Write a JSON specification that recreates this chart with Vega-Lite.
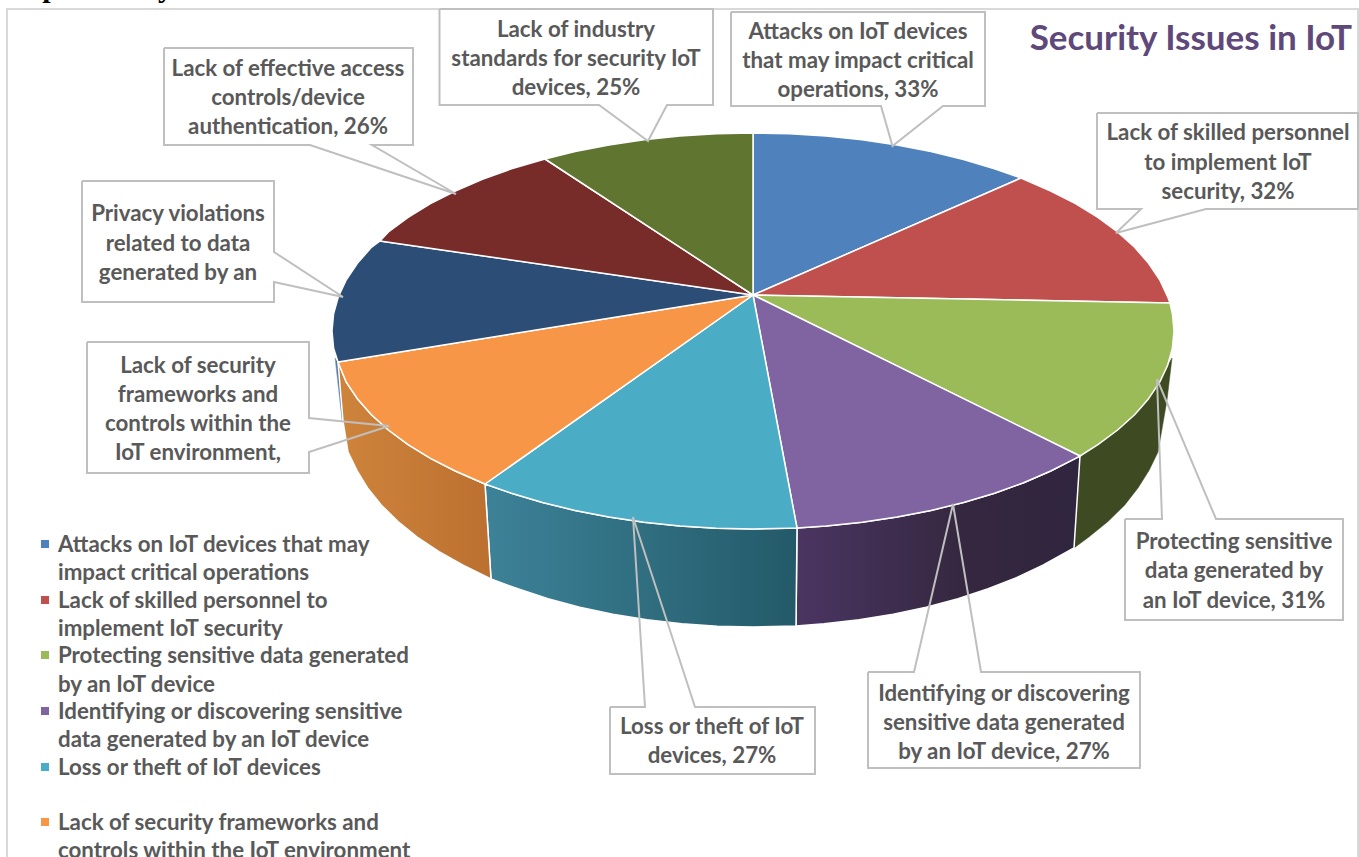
{"$schema":"https://vega.github.io/schema/vega-lite/v6.json","width":1359,"height":857,"padding":0,"autosize":"none","background":"white","config":{"view":{"stroke":null}},
"datasets":{
"slices":[
{"slice":"Attacks","x":0,"y":0},{"slice":"Attacks","x":0,"y":162},{"slice":"Attacks","x":36.7,"y":161.2},{"slice":"Attacks","x":73.1,"y":159},{"slice":"Attacks","x":109,"y":155.3},{"slice":"Attacks","x":144,"y":150.1},{"slice":"Attacks","x":177.9,"y":143.4},{"slice":"Attacks","x":210.5,"y":135.5},{"slice":"Attacks","x":241.5,"y":126.2},{"slice":"Attacks","x":268,"y":117},{"slice":"Attacks","x":0,"y":0},
{"slice":"Skilled","x":0,"y":0},{"slice":"Skilled","x":268,"y":117},{"slice":"Skilled","x":297.7,"y":104},{"slice":"Skilled","x":322.5,"y":91.3},{"slice":"Skilled","x":344.9,"y":77.6},{"slice":"Skilled","x":364.6,"y":63},{"slice":"Skilled","x":381.6,"y":47.7},{"slice":"Skilled","x":395.6,"y":31.7},{"slice":"Skilled","x":406.7,"y":15.2},{"slice":"Skilled","x":414.6,"y":-1.6},{"slice":"Skilled","x":417,"y":-8},{"slice":"Skilled","x":0,"y":0},
{"slice":"Protecting","x":0,"y":0},{"slice":"Protecting","x":417,"y":-8},{"slice":"Protecting","x":419.4,"y":-18.7},{"slice":"Protecting","x":421,"y":-36},{"slice":"Protecting","x":419.4,"y":-53.3},{"slice":"Protecting","x":414.6,"y":-70.4},{"slice":"Protecting","x":406.7,"y":-87.2},{"slice":"Protecting","x":395.6,"y":-103.7},{"slice":"Protecting","x":381.6,"y":-119.7},{"slice":"Protecting","x":364.6,"y":-135},{"slice":"Protecting","x":344.9,"y":-149.6},{"slice":"Protecting","x":327,"y":-161},{"slice":"Protecting","x":0,"y":0},
{"slice":"Identifying","x":0,"y":0},{"slice":"Identifying","x":327,"y":-161},{"slice":"Identifying","x":322.5,"y":-163.3},{"slice":"Identifying","x":297.7,"y":-176},{"slice":"Identifying","x":270.6,"y":-187.7},{"slice":"Identifying","x":241.5,"y":-198.2},{"slice":"Identifying","x":210.5,"y":-207.5},{"slice":"Identifying","x":177.9,"y":-215.4},{"slice":"Identifying","x":144,"y":-222.1},{"slice":"Identifying","x":109,"y":-227.3},{"slice":"Identifying","x":73.1,"y":-231},{"slice":"Identifying","x":44,"y":-233},{"slice":"Identifying","x":0,"y":0},
{"slice":"Loss","x":0,"y":0},{"slice":"Loss","x":44,"y":-233},{"slice":"Loss","x":36.7,"y":-233.2},{"slice":"Loss","x":0,"y":-234},{"slice":"Loss","x":-36.7,"y":-233.2},{"slice":"Loss","x":-73.1,"y":-231},{"slice":"Loss","x":-109,"y":-227.3},{"slice":"Loss","x":-144,"y":-222.1},{"slice":"Loss","x":-177.9,"y":-215.4},{"slice":"Loss","x":-210.5,"y":-207.5},{"slice":"Loss","x":-241.5,"y":-198.2},{"slice":"Loss","x":-268,"y":-189},{"slice":"Loss","x":0,"y":0},
{"slice":"Frameworks","x":0,"y":0},{"slice":"Frameworks","x":-268,"y":-189},{"slice":"Frameworks","x":-297.7,"y":-176},{"slice":"Frameworks","x":-322.5,"y":-163.3},{"slice":"Frameworks","x":-344.9,"y":-149.6},{"slice":"Frameworks","x":-364.6,"y":-135},{"slice":"Frameworks","x":-381.6,"y":-119.7},{"slice":"Frameworks","x":-395.6,"y":-103.7},{"slice":"Frameworks","x":-406.7,"y":-87.2},{"slice":"Frameworks","x":-415,"y":-67},{"slice":"Frameworks","x":0,"y":0},
{"slice":"Privacy","x":0,"y":0},{"slice":"Privacy","x":-415,"y":-67},{"slice":"Privacy","x":-419.4,"y":-53.3},{"slice":"Privacy","x":-421,"y":-36},{"slice":"Privacy","x":-419.4,"y":-18.7},{"slice":"Privacy","x":-414.6,"y":-1.6},{"slice":"Privacy","x":-406.7,"y":15.2},{"slice":"Privacy","x":-395.6,"y":31.7},{"slice":"Privacy","x":-381.6,"y":47.7},{"slice":"Privacy","x":-373,"y":54},{"slice":"Privacy","x":0,"y":0},
{"slice":"Access","x":0,"y":0},{"slice":"Access","x":-373,"y":54},{"slice":"Access","x":-364.6,"y":63},{"slice":"Access","x":-344.9,"y":77.6},{"slice":"Access","x":-322.5,"y":91.3},{"slice":"Access","x":-297.7,"y":104},{"slice":"Access","x":-270.6,"y":115.7},{"slice":"Access","x":-241.5,"y":126.2},{"slice":"Access","x":-208,"y":136},{"slice":"Access","x":0,"y":0},
{"slice":"Standards","x":0,"y":0},{"slice":"Standards","x":-208,"y":136},{"slice":"Standards","x":-177.9,"y":143.4},{"slice":"Standards","x":-144,"y":150.1},{"slice":"Standards","x":-109,"y":155.3},{"slice":"Standards","x":-73.1,"y":159},{"slice":"Standards","x":-36.7,"y":161.2},{"slice":"Standards","x":0,"y":162},{"slice":"Standards","x":0,"y":0}
],
"walls":[
{"wall":"Protecting","x":419,"y":-63},{"wall":"Protecting","x":414,"y":-105},{"wall":"Protecting","x":405,"y":-157},{"wall":"Protecting","x":396,"y":-175.6},{"wall":"Protecting","x":385,"y":-193},{"wall":"Protecting","x":371.6,"y":-210.2},{"wall":"Protecting","x":355,"y":-226.5},{"wall":"Protecting","x":335.9,"y":-242},{"wall":"Protecting","x":321,"y":-253},{"wall":"Protecting","x":327,"y":-161},{"wall":"Protecting","x":344.9,"y":-149.6},{"wall":"Protecting","x":364.6,"y":-135},{"wall":"Protecting","x":381.6,"y":-119.7},{"wall":"Protecting","x":395.6,"y":-103.7},{"wall":"Protecting","x":406.7,"y":-87.2},{"wall":"Protecting","x":414.6,"y":-70.4},{"wall":"Protecting","x":419,"y":-63},
{"wall":"Identifying","x":327,"y":-161},{"wall":"Identifying","x":297.7,"y":-176},{"wall":"Identifying","x":270.6,"y":-187.7},{"wall":"Identifying","x":241.5,"y":-198.2},{"wall":"Identifying","x":210.5,"y":-207.5},{"wall":"Identifying","x":177.9,"y":-215.4},{"wall":"Identifying","x":144,"y":-222.1},{"wall":"Identifying","x":109,"y":-227.3},{"wall":"Identifying","x":73.1,"y":-231},{"wall":"Identifying","x":44,"y":-233},{"wall":"Identifying","x":43,"y":-331},{"wall":"Identifying","x":71.2,"y":-328.8},{"wall":"Identifying","x":106.1,"y":-324.8},{"wall":"Identifying","x":140.2,"y":-319.3},{"wall":"Identifying","x":173.3,"y":-312.2},{"wall":"Identifying","x":205,"y":-303.7},{"wall":"Identifying","x":235.2,"y":-293.8},{"wall":"Identifying","x":263.5,"y":-282.6},{"wall":"Identifying","x":289.9,"y":-270.2},{"wall":"Identifying","x":321,"y":-253},{"wall":"Identifying","x":327,"y":-161},
{"wall":"Loss","x":44,"y":-233},{"wall":"Loss","x":0,"y":-234},{"wall":"Loss","x":-36.7,"y":-233.2},{"wall":"Loss","x":-73.1,"y":-231},{"wall":"Loss","x":-109,"y":-227.3},{"wall":"Loss","x":-144,"y":-222.1},{"wall":"Loss","x":-177.9,"y":-215.4},{"wall":"Loss","x":-210.5,"y":-207.5},{"wall":"Loss","x":-241.5,"y":-198.2},{"wall":"Loss","x":-268,"y":-189},{"wall":"Loss","x":-262,"y":-284},{"wall":"Loss","x":-235.2,"y":-293.8},{"wall":"Loss","x":-205,"y":-303.7},{"wall":"Loss","x":-173.3,"y":-312.2},{"wall":"Loss","x":-140.2,"y":-319.3},{"wall":"Loss","x":-106.1,"y":-324.8},{"wall":"Loss","x":-71.2,"y":-328.8},{"wall":"Loss","x":-35.7,"y":-331.2},{"wall":"Loss","x":0,"y":-332},{"wall":"Loss","x":43,"y":-331},{"wall":"Loss","x":44,"y":-233},
{"wall":"Frameworks","x":-268,"y":-189},{"wall":"Frameworks","x":-297.7,"y":-176},{"wall":"Frameworks","x":-322.5,"y":-163.3},{"wall":"Frameworks","x":-344.9,"y":-149.6},{"wall":"Frameworks","x":-364.6,"y":-135},{"wall":"Frameworks","x":-381.6,"y":-119.7},{"wall":"Frameworks","x":-395.6,"y":-103.7},{"wall":"Frameworks","x":-406.7,"y":-87.2},{"wall":"Frameworks","x":-415,"y":-67},{"wall":"Frameworks","x":-410,"y":-126},{"wall":"Frameworks","x":-405,"y":-157},{"wall":"Frameworks","x":-396,"y":-175.6},{"wall":"Frameworks","x":-385.3,"y":-193.2},{"wall":"Frameworks","x":-371.6,"y":-210.2},{"wall":"Frameworks","x":-355,"y":-226.5},{"wall":"Frameworks","x":-335.9,"y":-242},{"wall":"Frameworks","x":-314,"y":-256.6},{"wall":"Frameworks","x":-289.9,"y":-270.2},{"wall":"Frameworks","x":-262,"y":-284},{"wall":"Frameworks","x":-268,"y":-189},
{"wall":"Privacy","x":-418,"y":-63},{"wall":"Privacy","x":-415,"y":-67},{"wall":"Privacy","x":-410,"y":-127},{"wall":"Privacy","x":-411,"y":-125},{"wall":"Privacy","x":-418,"y":-63}
],
"boxes":[
{"box":"Attacks","x":-22,"x2":232,"y":283,"y2":189},{"box":"Standards","x":-313.5,"x2":-40,"y":286,"y2":190},{"box":"Access","x":-589,"x2":-340,"y":247,"y2":150},{"box":"Privacy","x":-671,"x2":-479,"y":114,"y2":-7},{"box":"Frameworks","x":-666,"x2":-444,"y":-47,"y2":-178},{"box":"Skilled","x":344,"x2":605,"y":182,"y2":86},{"box":"Protecting","x":372,"x2":590,"y":-224,"y2":-325},{"box":"Identifying","x":115,"x2":387,"y":-377,"y2":-473},{"box":"Loss","x":-143,"x2":62,"y":-412,"y2":-479}
],
"callouts":[
{"box":"Attacks","x":-22,"y":283},{"box":"Attacks","x":232,"y":283},{"box":"Attacks","x":232,"y":189},{"box":"Attacks","x":190,"y":189},{"box":"Attacks","x":139.5,"y":149},{"box":"Attacks","x":128,"y":189},{"box":"Attacks","x":-22,"y":189},{"box":"Attacks","x":-22,"y":283},
{"box":"Standards","x":-313.5,"y":286},{"box":"Standards","x":-40,"y":286},{"box":"Standards","x":-40,"y":190},{"box":"Standards","x":-86,"y":190},{"box":"Standards","x":-105,"y":154},{"box":"Standards","x":-154,"y":190},{"box":"Standards","x":-313.5,"y":190},{"box":"Standards","x":-313.5,"y":286},
{"box":"Access","x":-589,"y":247},{"box":"Access","x":-340,"y":247},{"box":"Access","x":-340,"y":150},{"box":"Access","x":-381,"y":150},{"box":"Access","x":-297,"y":101},{"box":"Access","x":-443,"y":150},{"box":"Access","x":-589,"y":150},{"box":"Access","x":-589,"y":247},
{"box":"Privacy","x":-671,"y":114},{"box":"Privacy","x":-479,"y":114},{"box":"Privacy","x":-479,"y":43},{"box":"Privacy","x":-410,"y":-2},{"box":"Privacy","x":-479,"y":13},{"box":"Privacy","x":-479,"y":-7},{"box":"Privacy","x":-671,"y":-7},{"box":"Privacy","x":-671,"y":114},
{"box":"Frameworks","x":-666,"y":-47},{"box":"Frameworks","x":-444,"y":-47},{"box":"Frameworks","x":-444,"y":-123},{"box":"Frameworks","x":-364,"y":-131},{"box":"Frameworks","x":-444,"y":-157},{"box":"Frameworks","x":-444,"y":-178},{"box":"Frameworks","x":-666,"y":-178},{"box":"Frameworks","x":-666,"y":-47},
{"box":"Skilled","x":344,"y":182},{"box":"Skilled","x":605,"y":182},{"box":"Skilled","x":605,"y":86},{"box":"Skilled","x":453,"y":86},{"box":"Skilled","x":363,"y":62},{"box":"Skilled","x":388,"y":86},{"box":"Skilled","x":344,"y":86},{"box":"Skilled","x":344,"y":182},
{"box":"Protecting","x":372,"y":-224},{"box":"Protecting","x":409,"y":-224},{"box":"Protecting","x":404,"y":-84},{"box":"Protecting","x":463,"y":-224},{"box":"Protecting","x":590,"y":-224},{"box":"Protecting","x":590,"y":-325},{"box":"Protecting","x":372,"y":-325},{"box":"Protecting","x":372,"y":-224},
{"box":"Identifying","x":115,"y":-377},{"box":"Identifying","x":161,"y":-377},{"box":"Identifying","x":200,"y":-209},{"box":"Identifying","x":228,"y":-377},{"box":"Identifying","x":387,"y":-377},{"box":"Identifying","x":387,"y":-473},{"box":"Identifying","x":115,"y":-473},{"box":"Identifying","x":115,"y":-377},
{"box":"Loss","x":-143,"y":-412},{"box":"Loss","x":-108,"y":-412},{"box":"Loss","x":-120,"y":-222},{"box":"Loss","x":-58,"y":-412},{"box":"Loss","x":62,"y":-412},{"box":"Loss","x":62,"y":-479},{"box":"Loss","x":-143,"y":-479},{"box":"Loss","x":-143,"y":-412}
],
"labels":[
{"t":"Attacks on IoT devices","x":105,"y":264},{"t":"that may impact critical","x":105,"y":235},{"t":"operations, 33%","x":105,"y":206},
{"t":"Lack of industry","x":-177,"y":266},{"t":"standards for security IoT","x":-177,"y":237},{"t":"devices, 25%","x":-177,"y":208},
{"t":"Lack of effective access","x":-465,"y":227},{"t":"controls/device","x":-465,"y":198},{"t":"authentication, 26%","x":-465,"y":169},
{"t":"Privacy violations","x":-575,"y":82},{"t":"related to data","x":-575,"y":52},{"t":"generated by an","x":-575,"y":23},
{"t":"Lack of security","x":-555,"y":-70},{"t":"frameworks and","x":-555,"y":-99},{"t":"controls within the","x":-555,"y":-128},{"t":"IoT environment,","x":-555,"y":-157},
{"t":"Lack of skilled personnel","x":475,"y":163},{"t":"to implement IoT","x":475,"y":133},{"t":"security, 32%","x":475,"y":104},
{"t":"Protecting sensitive","x":481,"y":-246},{"t":"data generated by","x":481,"y":-275},{"t":"an IoT device, 31%","x":481,"y":-305},
{"t":"Identifying or discovering","x":251,"y":-398},{"t":"sensitive data generated","x":251,"y":-427},{"t":"by an IoT device, 27%","x":251,"y":-456},
{"t":"Loss or theft of IoT","x":-41,"y":-431},{"t":"devices, 27%","x":-41,"y":-460}
],
"legendText":[
{"t":"Attacks on IoT devices that may","x":-695,"y":-249},{"t":"impact critical operations","x":-695,"y":-277},{"t":"Lack of skilled personnel to","x":-695,"y":-305},{"t":"implement IoT security","x":-695,"y":-333},{"t":"Protecting sensitive data generated","x":-695,"y":-360},{"t":"by an IoT device","x":-695,"y":-389},{"t":"Identifying or discovering sensitive","x":-695,"y":-416},{"t":"data generated by an IoT device","x":-695,"y":-444},{"t":"Loss or theft of IoT devices","x":-695,"y":-472},{"t":"Lack of security frameworks and","x":-695,"y":-527},{"t":"controls within the IoT environment","x":-695,"y":-555}
],
"legendKeys":[
{"slice":"Attacks","x":-708,"y":-249},{"slice":"Skilled","x":-708,"y":-305},{"slice":"Protecting","x":-708,"y":-360},{"slice":"Identifying","x":-708,"y":-416},{"slice":"Loss","x":-708,"y":-472},{"slice":"Frameworks","x":-708,"y":-527}
]
},
"layer":[
{"data":{"values":[{"x":-746,"x2":605,"y":286,"y2":-575}]},"mark":{"type":"rect","fill":"white","stroke":"#d9d9d9","strokeWidth":2},
 "encoding":{"x":{"field":"x","type":"quantitative","scale":{"domain":[-753,606],"nice":false,"zero":false},"axis":null},"x2":{"field":"x2"},"y":{"field":"y","type":"quantitative","scale":{"domain":[-562,295],"nice":false,"zero":false},"axis":null},"y2":{"field":"y2"}}},
{"data":{"values":[{"t":"Top Security","x":-743,"y":298}]},"mark":{"type":"text","font":"Liberation Serif","fontWeight":"bold","fontSize":30,"align":"left","baseline":"alphabetic","color":"#000000"},
 "encoding":{"x":{"field":"x","type":"quantitative"},"y":{"field":"y","type":"quantitative"},"text":{"field":"t"}}},
{"data":{"name":"walls"},"transform":[{"filter":"datum.wall==='Protecting'"}],"mark":{"type":"line","fill":"#3e4a22","stroke":"#3e4a22","strokeWidth":0.5},"encoding":{"x":{"field":"x","type":"quantitative"},"y":{"field":"y","type":"quantitative"},"order":{"value":null}}},
{"data":{"name":"walls"},"transform":[{"filter":"datum.wall==='Privacy'"}],"mark":{"type":"line","fill":"#5b7ba3","stroke":"#7f9cc0","strokeWidth":0.5},"encoding":{"x":{"field":"x","type":"quantitative"},"y":{"field":"y","type":"quantitative"},"order":{"value":null}}},
{"data":{"name":"walls"},"transform":[{"filter":"datum.wall==='Identifying'"}],"mark":{"type":"line","fill":{"x1":0,"y1":0,"x2":1,"y2":0,"gradient":"linear","stops":[{"offset":0,"color":"#4a3562"},{"offset":0.6,"color":"#35273f"},{"offset":1,"color":"#30253f"}]},"stroke":"#ffffff","strokeWidth":1.5},"encoding":{"x":{"field":"x","type":"quantitative"},"y":{"field":"y","type":"quantitative"},"order":{"value":null}}},
{"data":{"name":"walls"},"transform":[{"filter":"datum.wall==='Loss'"}],"mark":{"type":"line","fill":{"x1":0,"y1":0,"x2":1,"y2":0,"gradient":"linear","stops":[{"offset":0,"color":"#3d8298"},{"offset":1,"color":"#235a69"}]},"stroke":"#ffffff","strokeWidth":1.5},"encoding":{"x":{"field":"x","type":"quantitative"},"y":{"field":"y","type":"quantitative"},"order":{"value":null}}},
{"data":{"name":"walls"},"transform":[{"filter":"datum.wall==='Frameworks'"}],"mark":{"type":"line","fill":{"x1":0,"y1":0,"x2":1,"y2":0,"gradient":"linear","stops":[{"offset":0,"color":"#cf843c"},{"offset":1,"color":"#bb7030"}]},"stroke":"#ffffff","strokeWidth":1.5},"encoding":{"x":{"field":"x","type":"quantitative"},"y":{"field":"y","type":"quantitative"},"order":{"value":null}}},
{"data":{"name":"slices"},"mark":{"type":"line","stroke":"#ffffff","strokeWidth":1.5,"strokeJoin":"round"},
 "encoding":{"x":{"field":"x","type":"quantitative"},"y":{"field":"y","type":"quantitative"},"detail":{"field":"slice"},"order":{"value":null},
 "fill":{"field":"slice","type":"nominal","legend":null,"scale":{"domain":["Attacks","Skilled","Protecting","Identifying","Loss","Frameworks","Privacy","Access","Standards"],"range":["#4f81bd","#c0504d","#9bbb59","#8064a2","#4bacc6","#f79646","#2c4d75","#772c2a","#5f7530"]}}}},
{"data":{"name":"boxes"},"mark":{"type":"rect","fill":"#ffffff"},"encoding":{"x":{"field":"x","type":"quantitative"},"x2":{"field":"x2"},"y":{"field":"y","type":"quantitative"},"y2":{"field":"y2"}}},
{"data":{"name":"callouts"},"mark":{"type":"line","stroke":"#bfbfbf","strokeWidth":2},"encoding":{"x":{"field":"x","type":"quantitative"},"y":{"field":"y","type":"quantitative"},"detail":{"field":"box"},"order":{"value":null}}},
{"data":{"name":"labels"},"mark":{"type":"text","font":"Lato","fontWeight":"bold","fontSize":22.3,"dy":1,"align":"center","baseline":"middle","color":"#595959"},"encoding":{"x":{"field":"x","type":"quantitative"},"y":{"field":"y","type":"quantitative"},"text":{"field":"t"}}},
{"data":{"name":"legendText"},"mark":{"type":"text","font":"Lato","fontWeight":"bold","fontSize":22.3,"dy":1,"align":"left","baseline":"middle","color":"#595959"},"encoding":{"x":{"field":"x","type":"quantitative"},"y":{"field":"y","type":"quantitative"},"text":{"field":"t"}}},
{"data":{"name":"legendKeys"},"mark":{"type":"square","size":64,"opacity":1,"filled":true},"encoding":{"x":{"field":"x","type":"quantitative"},"y":{"field":"y","type":"quantitative"},
 "color":{"field":"slice","type":"nominal","legend":null,"scale":{"domain":["Attacks","Skilled","Protecting","Identifying","Loss","Frameworks","Privacy","Access","Standards"],"range":["#4f81bd","#c0504d","#9bbb59","#8064a2","#4bacc6","#f79646","#2c4d75","#772c2a","#5f7530"]}}}},
{"data":{"values":[{"t":"Security Issues in IoT","x":599,"y":257}]},"mark":{"type":"text","font":"Lato","fontWeight":"bold","fontSize":35,"dy":1,"align":"right","baseline":"middle","color":"#5f497a"},"encoding":{"x":{"field":"x","type":"quantitative"},"y":{"field":"y","type":"quantitative"},"text":{"field":"t"}}}
]
}
